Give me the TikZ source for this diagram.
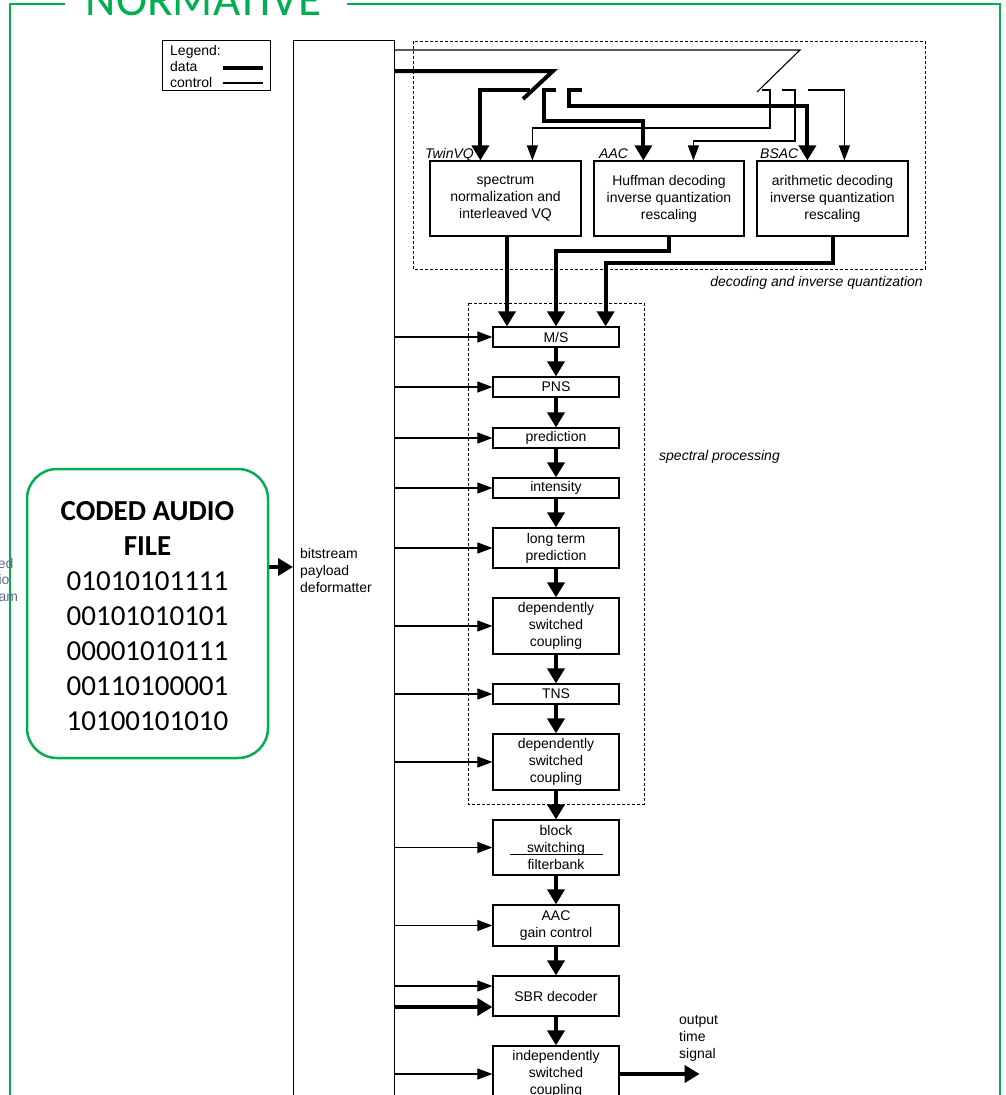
\documentclass[tikz,border=0pt]{standalone}
\usepackage{fontspec}
\setmainfont{Liberation Sans}
\newfontfamily\calibri{Carlito}
\usetikzlibrary{arrows.meta,calc}
\definecolor{ngreen}{RGB}{0,176,80}
\definecolor{fadeblue}{RGB}{95,105,140}
\begin{document}
\begin{tikzpicture}[x=1pt, y=-1pt,
  every node/.style={inner sep=0pt},
  txt/.style={font=\fontsize{14}{17}\selectfont},
  lbl/.style={font=\fontsize{14}{17}\selectfont\itshape},
  pbox/.style={draw, line width=1.2pt, minimum width=126pt, align=center, txt},
  dbox/.style={draw, line width=1.2pt, minimum width=151pt, minimum height=75pt, align=center, txt},
  dline/.style={line width=4pt},
  data/.style={dline, -{Triangle[length=15pt,width=17pt]}},
  cline/.style={line width=1.1pt},
  ctl/.style={cline, -{Triangle[length=15pt,width=11pt]}},
  dashbox/.style={line width=1pt, dash pattern=on 3pt off 2pt}]
\useasboundingbox (0,0) rectangle (1006,1095);
\clip (0,0) rectangle (1006,1095);

% green frame and title
\node[text=ngreen, font=\calibri\fontsize{47}{50}\selectfont, anchor=base] (title) at (203.5,15) {NORMATIVE};
\draw[ngreen, line width=2.5pt] (65,4) -- (10,4) -- (10,1100);
\draw[ngreen, line width=2.5pt] (347,4) -- (1000,4) -- (1000,1100);

% clipped remnant text
\node[txt, text=fadeblue, anchor=base west] (r1) at (-25,568) {coded};
\node[txt, text=fadeblue, anchor=base west] (r2) at (-25,584.5) {audio};
\node[txt, text=fadeblue, anchor=base west] (r3) at (-25,601) {stream};

% legend
\node[draw, line width=1.2pt, anchor=north west, minimum width=108pt, minimum height=50pt] (legend) at (162,40) {};
\node[txt, anchor=base west] (lg1) at (170,55) {Legend:};
\node[txt, anchor=base west] (lg2) at (170,71) {data};
\node[txt, anchor=base west] (lg3) at (170,87) {control};
\draw[dline] (223,68) -- (263,68);
\draw[cline] (223,83) -- (263,83);

% deformatter
\node[draw, line width=1.2pt, anchor=north west, minimum width=101pt, minimum height=1100pt] (def) at (293,40) {};
\node[txt, align=left, anchor=west] (deft) at (300,570) {bitstream\\payload\\deformatter};

% coded audio file
\node[draw=ngreen, line width=2.5pt, rounded corners=30pt, minimum width=241pt, minimum height=289pt] (caf) at (147.5,613.5) {};
\node[align=center, font=\calibri\fontsize{29}{35}\selectfont] (caft) at (147.5,616)
  {\textbf{CODED AUDIO}\\\textbf{FILE}\\01010101111\\00101010101\\00001010111\\00110100001\\10100101010};
\coordinate (ca) at ($(caf.east)+(0,-46.5)$);
\draw[data] (ca) -- (ca -| def.west);

% decoding and inverse quantization
\draw[dashbox] (413,41) rectangle (925,269);
\node[lbl, anchor=base east] (dqlbl) at (923,286) {decoding and inverse quantization};
\node[dbox] (tw) at (505.5,198.5) {spectrum\\normalization and\\interleaved VQ};
\node[dbox, minimum width=150pt] (aac) at (669,198.5) {Huffman decoding\\inverse quantization\\rescaling};
\node[dbox] (bsac) at (832.5,198.5) {arithmetic decoding\\inverse quantization\\rescaling};
\node[lbl, anchor=base east] (twl) at (474,158) {TwinVQ};
\node[lbl, anchor=base west] (aacl) at (599,158) {AAC};
\node[lbl, anchor=base west] (bsacl) at (760,158) {BSAC};

% data switch
\coordinate (dblade) at (553,71);
\coordinate (dtip) at (523,99);
\draw[dline] ($(def.north east)+(0,31)$) -- (dblade) -- (dtip);
\coordinate (k1) at (530,90);
\coordinate (k2) at (556,90);
\coordinate (k3) at (582,90);
\draw[data] (k1) -| ($(tw.north west)+(51,0)$);
\draw[data] (k2) -- ++(-12,0) -- ++(0,31) -| ($(aac.north west)+(50,0)$);
\draw[data] (k3) -- ++(-13,0) -- ++(0,16) -| ($(bsac.north west)+(51,0)$);

% control switch
\coordinate (cblade) at (800,50);
\coordinate (ctip) at (757,92);
\draw[cline] ($(def.north east)+(0,10)$) -- (cblade) -- (ctip);
\coordinate (q1) at (762,90);
\coordinate (q2) at (782,90);
\coordinate (q3) at (808,90);
\draw[ctl] (q1) -- ++(8,0) -- ++(0,38) -| ($(tw.north west)+(103,0)$);
\draw[ctl] (q2) -- ++(13,0) -- ++(0,51) -| ($(aac.north west)+(100,0)$);
\draw[ctl] (q3) -| ($(bsac.north west)+(88,0)$);

% spectral processing
\draw[dashbox] (468,303) rectangle (644,804);
\node[lbl, anchor=base west] (splbl) at (659,460) {spectral processing};
\node[pbox, minimum height=20pt] (ms) at (556,337) {M/S};
\node[pbox, minimum height=20pt] (pns) at (556,387) {PNS};
\node[pbox, minimum height=20pt] (pred) at (556,438) {prediction};
\node[pbox, minimum height=20pt] (int) at (556,488) {intensity};
\node[pbox, minimum height=40pt] (ltp) at (556,548) {long term\\prediction};
\node[pbox, minimum height=56pt] (dsc1) at (556,626) {dependently\\switched\\coupling};
\node[pbox, minimum height=20pt] (tns) at (556,694) {TNS};
\node[pbox, minimum height=56pt] (dsc2) at (556,762) {dependently\\switched\\coupling};
\node[pbox, minimum height=55pt] (bsf) at (556,847.5) {block\\switching\\filterbank};
\draw[line width=1pt] ($(bsf.west)+(18,6.5)$) -- ($(bsf.east)+(-17,6.5)$);
\node[pbox, minimum height=41pt] (gain) at (556,925.5) {AAC\\gain control};
\node[pbox, minimum height=40pt] (sbr) at (556,996) {SBR decoder};
\node[pbox, minimum height=56pt] (isc) at (556,1074) {independently\\switched\\coupling};

% outputs of decoders into M/S
\coordinate (two) at ($(tw.south)+(1.5,0)$);
\draw[data] (two) -- (two |- ms.north);
\draw[data] (aac.south) -- ++(0,14) -| (ms.north);
\draw[data] (bsac.south) -- ++(0,26) -| ($(ms.north east)+(-14,0)$);

% chain
\foreach \a/\b in {ms/pns,pns/pred,pred/int,int/ltp,ltp/dsc1,dsc1/tns,tns/dsc2,dsc2/bsf,bsf/gain,gain/sbr,sbr/isc}
  \draw[data] (\a.south) -- (\b.north);

% control lines from deformatter
\foreach \b in {ms,pns,pred,int,ltp,dsc1,tns,dsc2,bsf,gain,isc}
  \draw[ctl] (def.east |- \b.west) -- (\b.west);
\coordinate (s1) at ($(sbr.west)+(0,-10)$);
\coordinate (s2) at ($(sbr.west)+(0,11)$);
\draw[ctl] (def.east |- s1) -- (s1);
\draw[data] (def.east |- s2) -- (s2);

% output
\draw[data] (isc.east) -- ++(80,0) coordinate (out);
\node[txt, align=left, anchor=west] (outl) at (679,1038) {output\\time\\signal};
\end{tikzpicture}
\end{document}
